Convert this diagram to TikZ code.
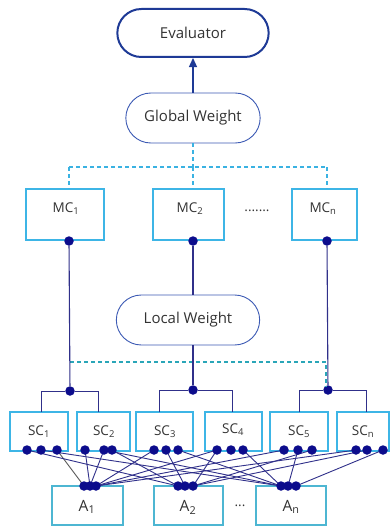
\documentclass[tikz,border=0pt]{standalone}
\usepackage{fontspec}
\setmainfont{Open Sans}
\usetikzlibrary{shapes.misc}
\usetikzlibrary{arrows.meta}
\definecolor{navy}{HTML}{0C0C8C}
\definecolor{wire}{HTML}{30308A}
\definecolor{boxcyan}{HTML}{3DB5E6}
\definecolor{abox}{HTML}{4DB6D2}
\definecolor{pillblue}{HTML}{1E3A96}
\definecolor{pilledge}{HTML}{3C5AB4}
\definecolor{dashcyan}{HTML}{3AB2E2}
\definecolor{dashteal}{HTML}{2AA6B8}
\definecolor{ink}{HTML}{333333}

\tikzset{
  evalpill/.style={rounded rectangle, draw=pillblue, line width=2pt, text=ink,
    font=\fontsize{15}{17}\selectfont},
  weightpill/.style={rounded rectangle, draw=pilledge, line width=0.9pt, text=ink,
    font=\fontsize{15}{17}\selectfont},
  mcbox/.style={rectangle, draw=boxcyan, line width=1.8pt, inner sep=0pt},
  scbox/.style={rectangle, draw=boxcyan, line width=1.6pt, inner sep=0pt},
  abox/.style={rectangle, draw=abox, line width=1.1pt, inner sep=0pt},
  lbl/.style={text=ink, inner sep=0pt, font=\fontsize{13.5}{15}\selectfont},
  slbl/.style={text=ink, inner sep=0pt, font=\fontsize{13.5}{15}\selectfont},
  albl/.style={text=ink, inner sep=0pt, font=\fontsize{15.5}{17}\selectfont},
  dot/.style={circle, fill=navy, inner sep=0pt, minimum size=9.5pt},
  trunk/.style={draw=wire, line width=1.1pt},
  mesh/.style={draw=wire, line width=0.9pt},
  graymesh/.style={draw=black!65, line width=0.9pt},
  cyandash/.style={draw=dashcyan, line width=1.1pt, dash pattern=on 4pt off 3pt},
  tealdash/.style={draw=dashteal, line width=1.1pt, dash pattern=on 4pt off 3pt},
}

\begin{document}
\begin{tikzpicture}[x=1pt,y=-1pt]
\useasboundingbox[fill=white] (0,0) rectangle (391,527);

% top of the hierarchy
\node[evalpill, minimum width=158pt, minimum height=48pt] (eval) at (193,33) {Evaluator};
\node[weightpill, minimum width=141pt, minimum height=50pt] (gw) at (193,118) {Global Weight};
\draw[draw=pillblue, line width=1.3pt, -{Triangle[length=9pt,width=8pt]}] (gw.north) -- (eval.south);

% main criteria boxes
\node[mcbox, minimum width=78pt, minimum height=51pt] (mc1) at (65,214.5) {};
\node[mcbox, minimum width=71pt, minimum height=51pt] (mc2) at (188.5,214.5) {};
\node[mcbox, minimum width=65pt, minimum height=51pt] (mcn) at (324.5,214.5) {};
\node[slbl] (mc1t) at (66,209) {MC\textsubscript{1}};
\node[slbl] (mc2t) at (190,209) {MC\textsubscript{2}};
\node[slbl] (mcnt) at (323,209) {MC\textsubscript{n}};
\node[lbl] (mcdots) at (257,211) {.......};

% dashed links from the global weight
\coordinate (gwl) at (69,167);
\coordinate (gwm) at (193,167);
\coordinate (gwr) at (327,167);
\coordinate (mc1top) at (69,189);
\coordinate (mcntop) at (327,189);
\draw[cyandash] (gw.south) -- (gwm);
\draw[cyandash] (gwl) -- (gwr);
\draw[cyandash] (gwl) -- (mc1top);
\draw[cyandash] (gwm) -- (mc2.north -| gwm);
\draw[cyandash] (gwr) -- (mcntop);

% local weight
\node[weightpill, minimum width=150pt, minimum height=50pt] (lw) at (188,320) {Local Weight};

% joints under the main criteria and above the sub criteria pairs
\node[dot] (m1) at (69,241) {};
\node[dot] (m2) at (193,241) {};
\node[dot] (m3) at (327,241) {};
\node[dot] (j1) at (70,391) {};
\node[dot] (j2) at (193,390) {};
\node[dot] (j3) at (328,390) {};

\coordinate (lwtop) at (193,295);
\coordinate (lwbot) at (193,345);
\coordinate (t1) at (70,362);
\coordinate (t2) at (326,362);
\coordinate (t3) at (326,387);

\draw[tealdash] (t1) -- (t2) -- (t3);
\draw[trunk] (m1) -- (j1);
\draw[trunk] (m2) -- (lwtop);
\draw[trunk] (lwbot) -- (j2);
\draw[trunk] (m3) -- (j3);

% sub criteria boxes
\node[scbox, minimum width=58pt, minimum height=39pt] (sc1) at (39,431.5) {};
\node[scbox, minimum width=53pt, minimum height=39pt] (sc2) at (103.5,431.5) {};
\node[scbox, minimum width=57pt, minimum height=39pt] (sc3) at (164.5,431.5) {};
\node[scbox, minimum width=57pt, minimum height=39pt] (sc4) at (233.5,431.5) {};
\node[scbox, minimum width=58pt, minimum height=39pt] (sc5) at (299,431.5) {};
\node[scbox, minimum width=52pt, minimum height=39pt] (scn) at (363,431.5) {};
\node[lbl] (sc1t) at (39,432) {SC\textsubscript{1}};
\node[lbl] (sc2t) at (104,432) {SC\textsubscript{2}};
\node[lbl] (sc3t) at (165,432) {SC\textsubscript{3}};
\node[lbl] (sc4t) at (233,430) {SC\textsubscript{4}};
\node[lbl] (sc5t) at (299,432) {SC\textsubscript{5}};
\node[lbl] (scnt) at (363,432) {SC\textsubscript{n}};

% brackets from each joint to its pair of sub criteria
\foreach \j/\l/\r in {j1/41/98, j2/159/232, j3/299/366} {
  \coordinate (\j l) at (\l,412);
  \coordinate (\j r) at (\r,412);
  \draw[trunk, line width=1pt] (\j l) |- (\j) -| (\j r);
}

% alternatives
\node[abox, minimum width=71pt, minimum height=39pt] (a1) at (87.5,505.5) {};
\node[abox, minimum width=69pt, minimum height=39pt] (a2) at (188.5,505.5) {};
\node[abox, minimum width=70pt, minimum height=39pt] (an) at (291,505.5) {};
\node[albl] (a1t) at (87,507) {A\textsubscript{1}};
\node[albl] (a2t) at (188,507) {A\textsubscript{2}};
\node[albl] (ant) at (291,507) {A\textsubscript{n}};
\node[lbl] (adots) at (240,506) {...};

% connection points on the sub criteria
\foreach \n/\xa/\xb/\xc in {s1/27/41/57, s2/85/104/112, s3/154/166/178,
                            s4/217/231/243, s5/284/298/312, s6/356/367/383} {
  \coordinate (\n a) at (\xa,450);
  \coordinate (\n b) at (\xb,450);
  \coordinate (\n c) at (\xc,450);
}
% connection points on the alternatives
\foreach \n/\xa/\xb/\xc in {p1/84/90/96, p2/178/185/193, p3/281/288/296} {
  \coordinate (\n a) at (\xa,486);
  \coordinate (\n b) at (\xb,486);
  \coordinate (\n c) at (\xc,486);
}

% every sub criterion feeds every alternative
\draw[graymesh] (s1c) -- (p1a);
\draw[mesh] (s1a) -- (p2a);
\draw[mesh] (s1b) -- (p3a);
\draw[mesh] (s2a) -- (p1b);
\draw[mesh] (s2b) -- (p1b);
\draw[mesh] (s2c) -- (p2a);
\draw[mesh] (s2b) -- (p3a);
\draw[mesh] (s3a) -- (p1c);
\draw[mesh] (s3b) -- (p2b);
\draw[mesh] (s3c) -- (p3a);
\draw[mesh] (s4a) -- (p1c);
\draw[mesh] (s4a) -- (p2c);
\draw[mesh] (s4c) -- (p3a);
\draw[mesh] (s5a) -- (p1c);
\draw[mesh] (s5c) -- (p2c);
\draw[mesh] (s5b) -- (p3b);
\draw[mesh] (s6a) -- (p1c);
\draw[mesh] (s6b) -- (p2c);
\draw[mesh] (s6c) -- (p3c);

% dots on top of the wires
\foreach \n in {s1,s2,s3,s4,s5,s6,p1,p2,p3} {
  \foreach \k in {a,b,c} {
    \node[dot] (\n\k d) at (\n\k) {};
  }
}
\end{tikzpicture}
\end{document}
